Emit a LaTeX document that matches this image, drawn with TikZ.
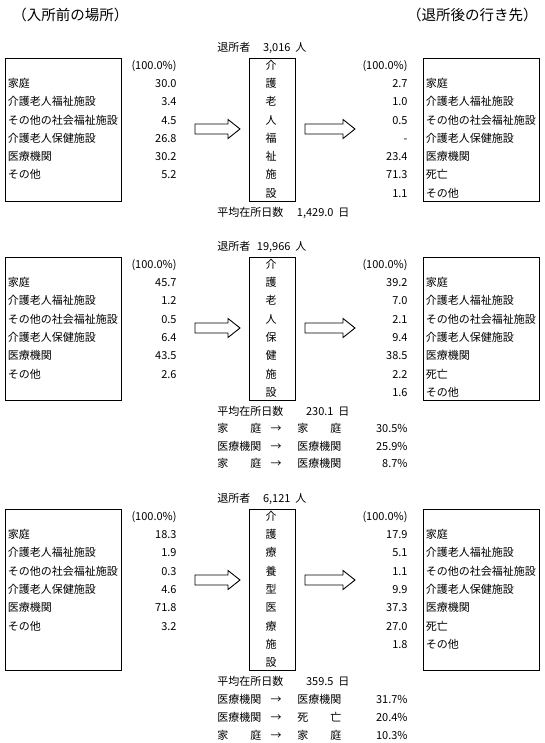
\documentclass[tikz,border=0pt]{standalone}
\usepackage{fontspec}
\setmainfont{Noto Sans CJK JP}
\usetikzlibrary{positioning}

\begin{document}
\begin{tikzpicture}[x=1pt, y=-1pt, line width=0.9pt,
    txt/.style={inner sep=0pt, font=\fontsize{11}{13}\selectfont, text height=8.4pt, text depth=0pt},
    lab/.style={txt, anchor=west},
    val/.style={txt, anchor=east},
    mid/.style={txt, anchor=center},
    title/.style={inner sep=0pt, font=\fontsize{14.5}{16}\selectfont, text height=11pt, text depth=0pt},
    box/.style={draw, inner sep=0pt, anchor=north west, minimum width=116pt},
    midbox/.style={draw, inner sep=0pt, anchor=north west, minimum width=46pt},
    bigarrow/.style={draw, line width=0.9pt, line join=miter}]
  \useasboundingbox (0,0) rectangle (545,743);

  \node[title, anchor=west] (before) at (12,15) {（入所前の場所）};
  \node[title, anchor=east] (after) at (538,15) {（退所後の行き先）};

  % --- section 1
  \node[box, minimum height=143pt] (lbox1) at (5,58) {};
  \node[midbox, minimum height=143pt] (mbox1) at (249,58) {};
  \node[box, minimum height=143pt] (rbox1) at (423,58) {};
  \node[lab] (out1) at (217,47) {退所者};
  \node[val] (num1) at (291,47) {3,016};
  \node[lab] (nin1) at (295,47) {人};
  \node[val] (lp1) at (177,65) {(100.0\%)};
  \node[val] (rp1) at (408,65) {(100.0\%)};
  \foreach \lab/\v [count=\i] in {家庭/30.0, 介護老人福祉施設/3.4, その他の社会福祉施設/4.5,
      介護老人保健施設/26.8, 医療機関/30.2, その他/5.2} {
    \node[lab] (la1\i) at (7.5,{65+18.3*\i}) {\lab};
    \node[val] (lv1\i) at (177,{65+18.3*\i}) {\v};
  }
  \foreach \c [count=\i from 0] in {介,護,老,人,福,祉,施,設}
    \node[mid] (m1\i) at (271,{65+18.3*\i}) {\c};
  \foreach \lab/\v [count=\i] in {家庭/2.7, 介護老人福祉施設/1.0, その他の社会福祉施設/0.5,
      介護老人保健施設/-, 医療機関/23.4, 死亡/71.3, その他/1.1} {
    \node[lab] (ra1\i) at (425.5,{65+18.3*\i}) {\lab};
    \node[val] (rv1\i) at (408,{65+18.3*\i}) {\v};
  }
  \node[lab] (avg1) at (217,212) {平均在所日数};
  \node[val] (days1) at (334,212) {1,429.0};
  \node[lab] (day1) at (338,212) {日};

  % --- section 2
  \begin{scope}[yshift=-199pt]
  \node[box, minimum height=143pt] (lbox2) at (5,58) {};
  \node[midbox, minimum height=143pt] (mbox2) at (249,58) {};
  \node[box, minimum height=143pt] (rbox2) at (423,58) {};
  \node[lab] (out2) at (217,47) {退所者};
  \node[val] (num2) at (291,47) {19,966};
  \node[lab] (nin2) at (295,47) {人};
  \node[val] (lp2) at (177,65) {(100.0\%)};
  \node[val] (rp2) at (408,65) {(100.0\%)};
  \foreach \lab/\v [count=\i] in {家庭/45.7, 介護老人福祉施設/1.2, その他の社会福祉施設/0.5,
      介護老人保健施設/6.4, 医療機関/43.5, その他/2.6} {
    \node[lab] (la2\i) at (7.5,{65+18.3*\i}) {\lab};
    \node[val] (lv2\i) at (177,{65+18.3*\i}) {\v};
  }
  \foreach \c [count=\i from 0] in {介,護,老,人,保,健,施,設}
    \node[mid] (m2\i) at (271,{65+18.3*\i}) {\c};
  \foreach \lab/\v [count=\i] in {家庭/39.2, 介護老人福祉施設/7.0, その他の社会福祉施設/2.1,
      介護老人保健施設/9.4, 医療機関/38.5, 死亡/2.2, その他/1.6} {
    \node[lab] (ra2\i) at (425.5,{65+18.3*\i}) {\lab};
    \node[val] (rv2\i) at (408,{65+18.3*\i}) {\v};
  }
  \node[lab] (avg2) at (217,212) {平均在所日数};
  \node[val] (days2) at (334,212) {230.1};
  \node[lab] (day2) at (338,212) {日};
  \foreach \fr/\to/\p [count=\i] in {家　　庭/家　　庭/30.5\%, 医療機関/医療機関/25.9\%,
      家　　庭/医療機関/8.7\%} {
    \node[lab] (f2\i) at (217,{212+17.4*\i}) {\fr};
    \node[mid] (a2\i) at (276,{212+17.4*\i}) {→};
    \node[lab] (t2\i) at (297,{212+17.4*\i}) {\to};
    \node[val] (p2\i) at (408,{212+17.4*\i}) {\p};
  }
  \end{scope}

  % --- section 3
  \begin{scope}[yshift=-451pt]
  \node[box, minimum height=161.3pt] (lbox3) at (5,58) {};
  \node[midbox, minimum height=161.3pt] (mbox3) at (249,58) {};
  \node[box, minimum height=161.3pt] (rbox3) at (423,58) {};
  \node[lab] (out3) at (217,47) {退所者};
  \node[val] (num3) at (291,47) {6,121};
  \node[lab] (nin3) at (295,47) {人};
  \node[val] (lp3) at (177,65) {(100.0\%)};
  \node[val] (rp3) at (408,65) {(100.0\%)};
  \foreach \lab/\v [count=\i] in {家庭/18.3, 介護老人福祉施設/1.9, その他の社会福祉施設/0.3,
      介護老人保健施設/4.6, 医療機関/71.8, その他/3.2} {
    \node[lab] (la3\i) at (7.5,{65+18.3*\i}) {\lab};
    \node[val] (lv3\i) at (177,{65+18.3*\i}) {\v};
  }
  \foreach \c [count=\i from 0] in {介,護,療,養,型,医,療,施,設}
    \node[mid] (m3\i) at (271,{65+18.3*\i}) {\c};
  \foreach \lab/\v [count=\i] in {家庭/17.9, 介護老人福祉施設/5.1, その他の社会福祉施設/1.1,
      介護老人保健施設/9.9, 医療機関/37.3, 死亡/27.0, その他/1.8} {
    \node[lab] (ra3\i) at (425.5,{65+18.3*\i}) {\lab};
    \node[val] (rv3\i) at (408,{65+18.3*\i}) {\v};
  }
  \node[lab] (avg3) at (217,230.5) {平均在所日数};
  \node[val] (days3) at (334,230.5) {359.5};
  \node[lab] (day3) at (338,230.5) {日};
  \foreach \fr/\to/\p [count=\i] in {医療機関/医療機関/31.7\%, 医療機関/死　　亡/20.4\%,
      家　　庭/家　　庭/10.3\%} {
    \node[lab] (f3\i) at (217,{230.5+17.8*\i}) {\fr};
    \node[mid] (a3\i) at (276,{230.5+17.8*\i}) {→};
    \node[lab] (t3\i) at (297,{230.5+17.8*\i}) {\to};
    \node[val] (p3\i) at (408,{230.5+17.8*\i}) {\p};
  }
  \end{scope}

  % block arrows
  \foreach \dy in {0,199,451} {
    \draw[bigarrow] (195,{124+\dy}) -- (228,{124+\dy}) -- (228,{119.5+\dy}) -- (240,{129+\dy})
      -- (228,{138.5+\dy}) -- (228,{134+\dy}) -- (195,{134+\dy}) -- cycle;
    \draw[bigarrow] (305,{124+\dy}) -- (343,{124+\dy}) -- (343,{119.5+\dy}) -- (355,{129+\dy})
      -- (343,{138.5+\dy}) -- (343,{134+\dy}) -- (305,{134+\dy}) -- cycle;
  }
\end{tikzpicture}
\end{document}
